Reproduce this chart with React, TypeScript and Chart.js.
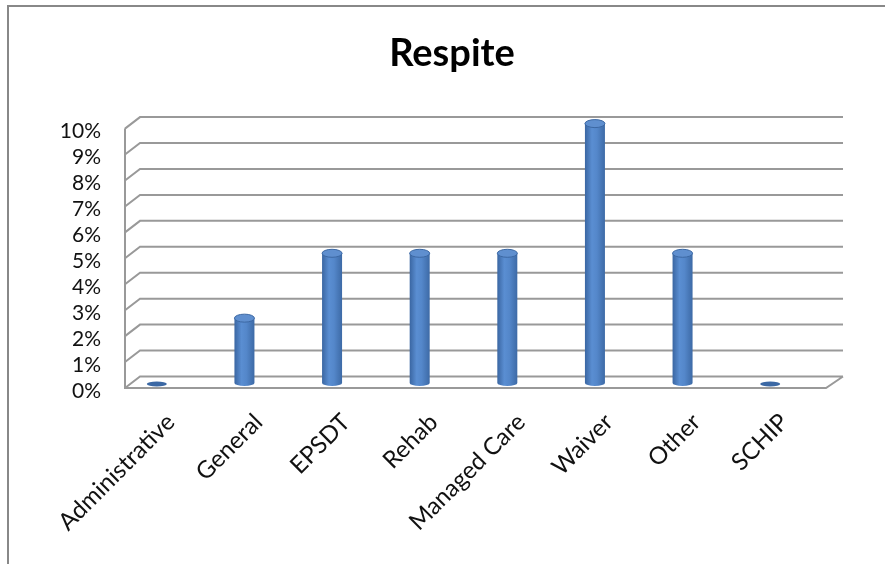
import React, { useEffect, useRef } from "react";
import { Chart, registerables } from "chart.js";

Chart.register(...registerables);

const categories = ["Administrative", "General", "EPSDT", "Rehab", "Managed Care", "Waiver", "Other", "SCHIP"];
const respiteValues = [0, 0.025, 0.05, 0.05, 0.05, 0.1, 0.05, 0];
const yMin = 0;
const yMax = 0.1;
const yStep = 0.01;
const titleText = "Respite";

const LINE = "#999999";
const DEPTH_X = 15;
const DEPTH_Y = 11.5;
const FRONT_SHIFT = 12;
const BAR_SHIFT_Y = -5;

const framePlugin = {
  id: "frame",
  beforeDraw(chart: any) {
    const { ctx, width, height } = chart;
    ctx.save();
    ctx.strokeStyle = "#888888";
    ctx.lineWidth = 2;
    ctx.beginPath();
    ctx.moveTo(8, height);
    ctx.lineTo(8, 6);
    ctx.lineTo(width, 6);
    ctx.stroke();
    ctx.restore();
  },
};

const wallPlugin = {
  id: "wall",
  beforeDatasetsDraw(chart: any) {
    const { ctx, chartArea, scales } = chart;
    const y = scales.y;
    const fl = chartArea.left + FRONT_SHIFT;
    const fr = chartArea.right + FRONT_SHIFT;
    ctx.save();
    ctx.strokeStyle = LINE;
    ctx.lineWidth = 2;
    ctx.beginPath();
    y.ticks.forEach((t: any) => {
      const py = y.getPixelForValue(t.value);
      ctx.moveTo(fl, py);
      ctx.lineTo(fl + DEPTH_X, py - DEPTH_Y);
      ctx.lineTo(fr + DEPTH_X + 2, py - DEPTH_Y);
    });
    const top = y.getPixelForValue(yMax);
    const bot = y.getPixelForValue(yMin);
    ctx.moveTo(fl, top);
    ctx.lineTo(fl, bot);
    ctx.lineTo(fr, bot);
    ctx.lineTo(fr + DEPTH_X + 2, bot - DEPTH_Y);
    ctx.stroke();
    ctx.restore();
  },
};

const cylinderPlugin = {
  id: "cylinders",
  afterDatasetsDraw(chart: any) {
    const { ctx } = chart;
    const meta = chart.getDatasetMeta(0);
    ctx.save();
    meta.data.forEach((el: any, i: number) => {
      const v = respiteValues[i];
      const x = el.x;
      const w = 20;
      const rx = w / 2;
      const base = el.base + BAR_SHIFT_Y;
      const top = el.y + BAR_SHIFT_Y;
      if (v <= 0) {
        ctx.fillStyle = "#3b68a4";
        ctx.beginPath();
        ctx.ellipse(x, base + 1, rx, 2.5, 0, 0, Math.PI * 2);
        ctx.fill();
        return;
      }
      const g = ctx.createLinearGradient(x - rx, 0, x + rx, 0);
      g.addColorStop(0, "#3a66a2");
      g.addColorStop(0.35, "#5a8ed2");
      g.addColorStop(0.6, "#5487ca");
      g.addColorStop(1, "#3d6aa6");
      ctx.fillStyle = g;
      ctx.beginPath();
      ctx.moveTo(x - rx, top);
      ctx.lineTo(x - rx, base);
      ctx.ellipse(x, base, rx, 3, 0, Math.PI, 0, true);
      ctx.lineTo(x + rx, top);
      ctx.closePath();
      ctx.fill();
      ctx.fillStyle = "#5f8fcf";
      ctx.strokeStyle = "#3c68a3";
      ctx.lineWidth = 1;
      ctx.beginPath();
      ctx.ellipse(x, top, rx, 4, 0, 0, Math.PI * 2);
      ctx.fill();
      ctx.stroke();
    });
    ctx.restore();
  },
};

export default function App() {
  const ref = useRef<HTMLCanvasElement | null>(null);
  useEffect(() => {
    document.body.style.margin = "0";
    const canvas = ref.current!;
    const chart = new Chart(canvas, {
      type: "bar",
      data: {
        labels: categories,
        datasets: [
          {
            label: titleText,
            data: respiteValues,
            backgroundColor: "rgba(0,0,0,0)",
            borderWidth: 0,
            barThickness: 20,
          },
        ],
      },
      options: {
        animation: false,
        responsive: false,
        maintainAspectRatio: false,
        layout: { padding: { left: 19, right: 0, top: 0, bottom: 0 } },
        plugins: {
          legend: { display: false },
          tooltip: { enabled: false },
          title: {
            display: true,
            text: titleText,
            color: "#000000",
            font: { family: "Lato", size: 38, weight: "bold" },
            padding: { top: 31, bottom: 52 },
          },
        },
        scales: {
          x: {
            grid: { display: false, drawTicks: false },
            border: { display: false },
            ticks: {
              minRotation: 45,
              maxRotation: 45,
              autoSkip: false,
              padding: 20,
              labelOffset: 14,
              color: "#111111",
              font: { family: "Lato", size: 24 },
            },
            afterFit(scale: any) {
              scale.height = 176;
            },
          },
          y: {
            min: yMin,
            max: yMax,
            grid: { display: false, drawTicks: false },
            border: { display: false },
            ticks: {
              stepSize: yStep,
              autoSkip: false,
              padding: 12,
              labelOffset: 3,
              color: "#111111",
              font: { family: "Lato", size: 21 },
              callback: (v: any) => Math.round(Number(v) * 100) + "%",
            },
            afterFit(scale: any) {
              scale.width = 94;
            },
          },
          spacer: {
            type: "linear",
            position: "right",
            display: true,
            grid: { display: false, drawTicks: false },
            border: { display: false },
            ticks: { display: false },
            afterFit(scale: any) {
              scale.width = 71;
            },
          },
        },
      },
      plugins: [framePlugin, wallPlugin, cylinderPlugin],
    });
    return () => chart.destroy();
  }, []);
  return <canvas ref={ref} width={885} height={564} style={{ display: "block" }} />;
}
